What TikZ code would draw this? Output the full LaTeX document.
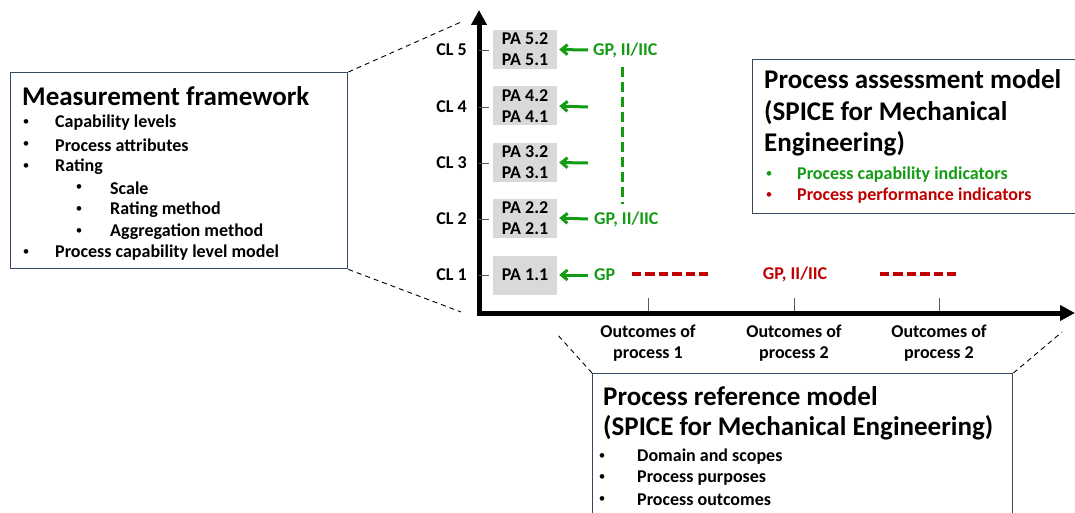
\documentclass[tikz,border=0pt]{standalone}
\usepackage{fontspec}
\setmainfont{Carlito}
\usetikzlibrary{positioning,arrows.meta}
\definecolor{gpgreen}{RGB}{20,155,20}
\definecolor{gpred}{RGB}{192,0,0}
\definecolor{boxblue}{RGB}{52,72,100}
\definecolor{pagray}{RGB}{217,217,217}

\tikzset{
  frame/.style={draw=boxblue, line width=1.4pt, anchor=north west},
  head/.style={font=\fontsize{27}{31.5}\selectfont\bfseries, anchor=west, inner sep=0, align=left},
  item/.style={font=\fontsize{18}{21}\selectfont\bfseries, anchor=west, inner sep=0},
  dot/.style={font=\fontsize{13}{13}\selectfont, anchor=center, inner sep=0},
  pabox/.style={fill=pagray, minimum width=64pt, minimum height=39pt, inner sep=0, align=center,
    font=\fontsize{18}{21}\selectfont\bfseries},
  lbl/.style={font=\fontsize{18}{21}\selectfont\bfseries, inner sep=0, align=center},
  garrow/.style={draw=gpgreen, line width=3pt, -{Straight Barb[length=6pt,width=10pt]}},
  zoomline/.style={dash pattern=on 5pt off 4pt, line width=0.9pt},
}

\begin{document}
\begin{tikzpicture}[x=1pt,y=-1pt]
	\useasboundingbox (0,0) rectangle (1075,513);
	% axes
	\coordinate (top) at (479,10);
	\coordinate (o) at (479,313);
	\coordinate (right) at (1075,313);
	\draw[line width=5pt, {Triangle[length=15pt,width=15pt]}-{Triangle[length=15pt,width=15pt]}] (top) -- (o) -- (right);

	% capability levels
	\foreach \n/\y in {5/50,4/107,3/163,2/219,1/275} {
		\coordinate (t\n) at (479,\y);
		\draw[gray!70!black, line width=0.8pt] (t\n) -- ++(10,0);
		\node[lbl, left=12pt of t\n] (cl\n) {CL \n};
		\coordinate (s\n) at (588,\y);
	}
	\node[pabox] (pa5) at (525,49.5) {PA 5.2\\PA 5.1};
	\node[pabox] (pa4) at (525,106) {PA 4.2\\PA 4.1};
	\node[pabox] (pa3) at (525,162.5) {PA 3.2\\PA 3.1};
	\node[pabox] (pa2) at (525,218) {PA 2.2\\PA 2.1};
	\node[pabox] (pa1) at (525,275) {PA 1.1};
	\foreach \n in {1,...,5}
		\draw[garrow, shorten >=2pt] (s\n) -- (pa\n.east);
	\node[lbl, gpgreen, right=5pt of s5] (gp5) {GP, II/IIC};
	\node[lbl, gpgreen, right=6pt of s2] (gp2) {GP, II/IIC};
	\node[lbl, gpgreen, right=6pt of s1] (gp1) {GP};
	\draw[gpgreen, line width=3pt, dash pattern=on 10pt off 5pt, shorten <=9pt, shorten >=7pt] ([xshift=-3pt]gp5.south) -- ([xshift=-3pt]gp5.south |- gp2.north);

	% process performance
	\node[lbl, gpred] (gpr) at (795,274) {GP, II/IIC};
	\coordinate (r1) at (632,274);
	\coordinate (r2) at (709,274);
	\coordinate (r3) at (880,274);
	\coordinate (r4) at (958,274);
	\draw[gpred, line width=3.5pt, dash pattern=on 9.4pt off 4pt] (r1) -- (r2) (r3) -- (r4);

	% outcomes
	\foreach \x/\k/\p in {648/o1/1,794/o2/2,939/o3/2} {
		\coordinate (\k) at (\x,311);
		\draw[gray!70!black, line width=0.8pt] (\k) -- ++(0,-13);
		\node[lbl, below=14pt of \k] {Outcomes of\\process \p};
	}

	% measurement framework
	\node[frame, minimum width=337pt, minimum height=196pt] (mf) at (10,72) {};
	\node[head] (mfh) at (22,96) {Measurement framework};
	\foreach \y/\t in {123/Capability levels,145/Process attributes,167/Rating,253/Process capability level model} {
		\node[dot] at (26,\y) {\textbullet};
		\node[item] at (55,\y) {\t};
	}
	\foreach \y/\t in {188/Scale,210/Rating method,232/Aggregation method} {
		\node[dot] at (79,\y) {\textbullet};
		\node[item] at (110,\y) {\t};
	}
	\coordinate (zt) at (461,22);
	\coordinate (zb) at (461,312);
	\draw[zoomline] (mf.north east) -- (zt);
	\draw[zoomline] (mf.south east) -- (zb);

	% process assessment model
	\node[frame, minimum width=340pt, minimum height=154pt] (pam) at (752,59) {};
	\node[head] at (764,113) {Process assessment model\\(SPICE for Mechanical\\Engineering)};
	\node[dot, gpgreen] at (769,175) {\textbullet};
	\node[item, gpgreen] at (797,175) {Process capability indicators};
	\node[dot, gpred] at (769,196) {\textbullet};
	\node[item, gpred] at (797,196) {Process performance indicators};

	% process reference model
	\node[frame, minimum width=420pt, minimum height=160pt] (prm) at (592,373) {};
	\node[head, font=\fontsize{27}{30}\selectfont\bfseries] at (603,413) {Process reference model\\(SPICE for Mechanical Engineering)};
	\foreach \y/\t in {457/Domain and scopes,478/Process purposes,500/Process outcomes} {
		\node[dot] at (602,\y) {\textbullet};
		\node[item] at (637,\y) {\t};
	}
	\coordinate (zl) at (556,333);
	\coordinate (zr) at (1062,332);
	\draw[zoomline] (prm.north west) -- (zl);
	\draw[zoomline] (prm.north east) -- (zr);
\end{tikzpicture}
\end{document}
